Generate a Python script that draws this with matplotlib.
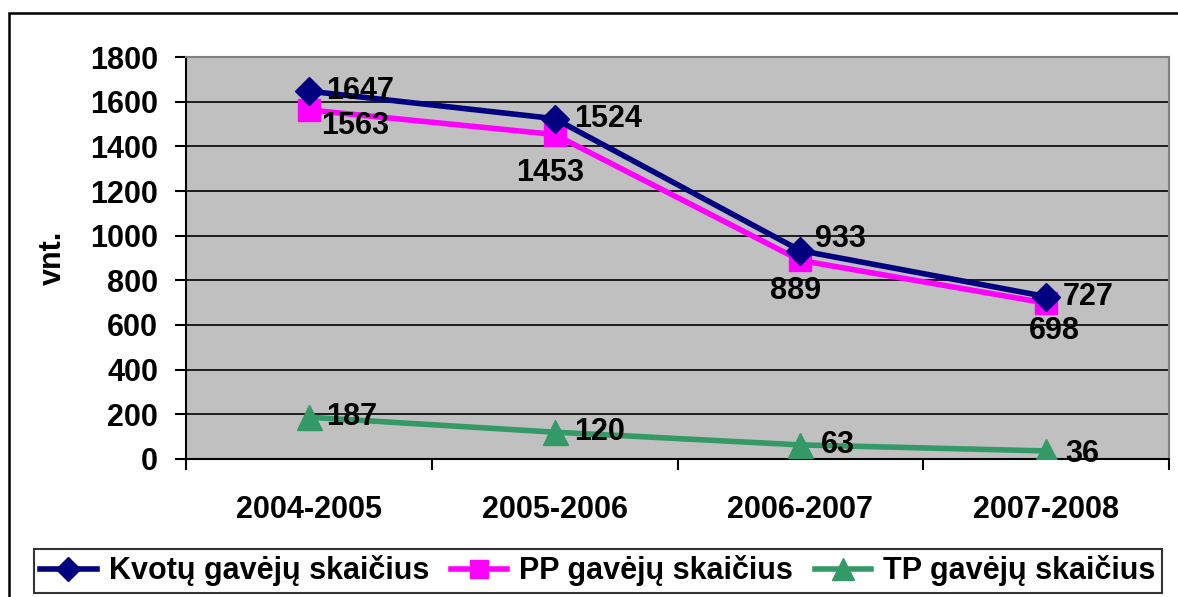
import matplotlib
matplotlib.use("Agg")
import matplotlib.pyplot as plt
from matplotlib.patches import Rectangle

plt.rcParams["font.family"] = ["Liberation Sans", "DejaVu Sans"]
plt.rcParams["font.weight"] = "bold"

seasons = ["2004-2005", "2005-2006", "2006-2007", "2007-2008"]
kvotu = [1647, 1524, 933, 727]
pp = [1563, 1453, 889, 698]
tp = [187, 120, 63, 36]
series_names = ["Kvotų gavėjų skaičius", "PP gavėjų skaičius", "TP gavėjų skaičius"]

FS = 22

# label offsets in pixels (dx, dy) per point
kv_off = [(17, 0), (19, 0), (15, 12), (17, 0)]
pp_off = [(12, -16), (-5, -38), (-5, -31), (8, -28)]
tp_off = [(17, 0), (19, 0), (20, 0), (19, -3)]

fig = plt.figure(figsize=(11.78, 5.97), dpi=100)
ax = fig.add_axes([0.1579, 0.2312, 0.8345, 0.6733])
ax.set_facecolor("#C0C0C0")

x = list(range(len(seasons)))
ax.plot(x, kvotu, color="#000080", lw=4, marker="D", ms=14, zorder=4, label=series_names[0])
ax.plot(x, pp, color="#FF00FF", lw=4, marker="s", ms=16, zorder=3, label=series_names[1])
ax.plot(x, tp, color="#339966", lw=4, marker="^", ms=18, zorder=3, label=series_names[2])

px = 72 / 100
def put_labels(vals, offs, ha_list):
    for i, v in enumerate(vals):
        dx, dy = offs[i]
        ax.annotate(str(v), (i, v), xytext=(dx * px, dy * px), textcoords="offset points",
                    ha=ha_list[i], va="center", fontsize=FS, fontweight="bold", zorder=5)

put_labels(kvotu, kv_off, ["left"] * 4)
put_labels(pp, pp_off, ["left", "center", "center", "center"])
put_labels(tp, tp_off, ["left"] * 4)

ax.set_xlim(-0.5, 3.5)
ax.set_ylim(0, 1800)
ax.set_yticks(range(0, 1801, 200))
ax.yaxis.grid(True, color="black", lw=1.2)
ax.set_axisbelow(True)
ax.tick_params(axis="y", direction="out", length=8, width=1.5, labelsize=FS, pad=12)
ax.set_xticks(x)
ax.set_xticklabels(seasons)
ax.tick_params(axis="x", which="major", length=0, labelsize=FS, pad=26)
ax.set_xticks([-0.5, 0.5, 1.5, 2.5, 3.5], minor=True)
ax.tick_params(axis="x", which="minor", direction="out", length=8, width=1.5)
for t in ax.get_xticklabels() + ax.get_yticklabels():
    t.set_fontweight("bold")

ax.spines["left"].set_linewidth(1.5)
ax.spines["bottom"].set_linewidth(1.5)
ax.spines["top"].set_color("#808080")
ax.spines["right"].set_color("#808080")
ax.spines["top"].set_linewidth(1.5)
ax.spines["right"].set_linewidth(1.5)
ax.set_ylabel("vnt.", fontsize=FS, fontweight="bold", labelpad=16)

leg = fig.legend(loc="center", bbox_to_anchor=(0.5075, 0.0436), ncol=3, fontsize=FS,
                 frameon=True, fancybox=False, edgecolor="black", handlelength=1.85,
                 handletextpad=0.4, columnspacing=0.7, borderpad=0.2, borderaxespad=0,
                 markerscale=0.85)
leg.get_frame().set_linewidth(1.5)
for t in leg.get_texts():
    t.set_fontweight("bold")

fig.patches.append(Rectangle((9 / 1178, -0.05), 1.2, 1 - 13 / 597 + 0.05,
                             transform=fig.transFigure, fill=False, edgecolor="black", lw=1.8))

fig.savefig("out.png", dpi=100)
